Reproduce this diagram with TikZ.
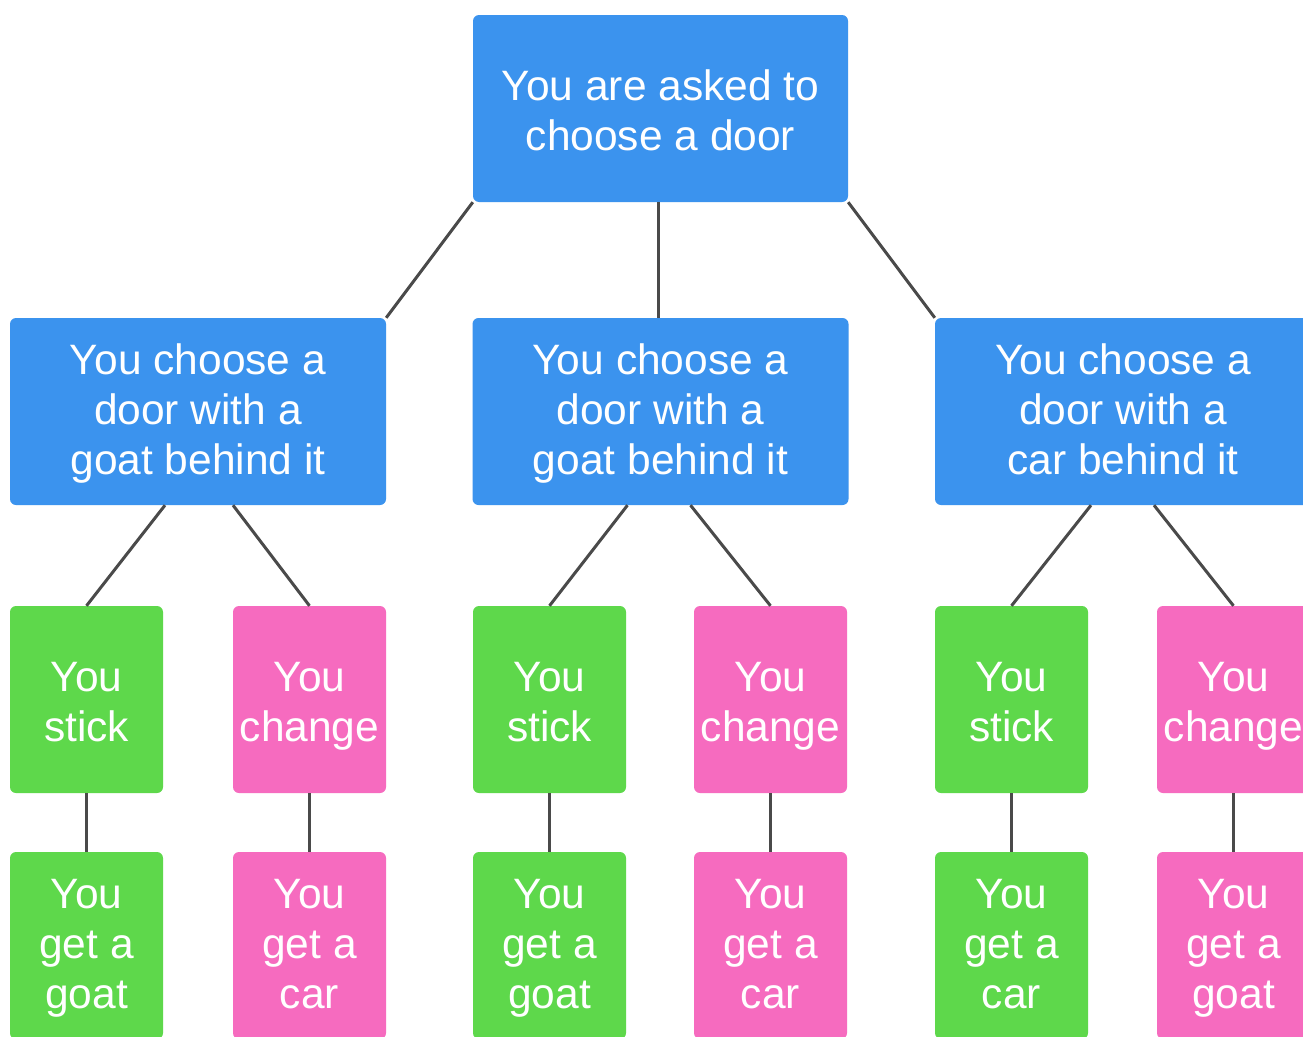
\documentclass[tikz,border=0pt]{standalone}
\usepackage{fontspec}
\setmainfont{Liberation Sans}
\definecolor{boxblue}{HTML}{3B93EE}
\definecolor{boxgreen}{HTML}{5ED84B}
\definecolor{boxpink}{HTML}{F66BBF}
\definecolor{linegray}{HTML}{4A4A4A}
\newcommand\threel[1]{\raisebox{-3pt}[\height][\depth]{\begin{tabular}{@{}c@{}}#1\end{tabular}}}
\newcommand\twol[1]{\raisebox{-7pt}[\height][\depth]{\begin{tabular}{@{}c@{}}#1\end{tabular}}}
\begin{document}
\begin{tikzpicture}[x=1pt,y=-1pt,
  box/.style={rounded corners=6pt, inner sep=0pt, text=white,
    font=\fontsize{42.5}{50}\selectfont, minimum height=187pt},
  bluebox/.style={box, fill=boxblue, minimum width=376pt},
  greenbox/.style={box, fill=boxgreen, minimum width=153pt},
  pinkbox/.style={box, fill=boxpink, minimum width=153pt},
  conn/.style={draw=linegray, line width=3pt}]
\useasboundingbox (0,0) rectangle (1303,1036);
\clip (0,0) rectangle (1303,1036);
\fill[white] (0,0) rectangle (1303,1036);

% level 1
\node[bluebox, minimum width=375pt] (top) at (660.5,108.5) {\twol{You are asked to\\choose a door}};
% level 2
\node[bluebox] (La) at (198,411.5) {\threel{You choose a\\door with a\\goat behind it}};
\node[bluebox] (Lb) at (660.5,411.5) {\threel{You choose a\\door with a\\goat behind it}};
\node[bluebox] (Lc) at (1123,411.5) {\threel{You choose a\\door with a\\car behind it}};
% level 3
\node[greenbox] (Sa) at (86.5,699.5) {\twol{You\\stick}};
\node[pinkbox]  (Ca) at (309.5,699.5) {\twol{You\\change}};
\node[greenbox] (Sb) at (549.5,699.5) {\twol{You\\stick}};
\node[pinkbox]  (Cb) at (770.5,699.5) {\twol{You\\change}};
\node[greenbox] (Sc) at (1011.5,699.5) {\twol{You\\stick}};
\node[pinkbox]  (Cc) at (1233.5,699.5) {\twol{You\\change}};
% level 4
\node[greenbox] (Ra) at (86.5,945.5) {\threel{You\\get a\\goat}};
\node[pinkbox]  (Qa) at (309.5,945.5) {\threel{You\\get a\\car}};
\node[greenbox] (Rb) at (549.5,945.5) {\threel{You\\get a\\goat}};
\node[pinkbox]  (Qb) at (770.5,945.5) {\threel{You\\get a\\car}};
\node[greenbox] (Rc) at (1011.5,945.5) {\threel{You\\get a\\car}};
\node[pinkbox]  (Qc) at (1233.5,945.5) {\threel{You\\get a\\goat}};

% connectors level 1 -> 2
\draw[conn] (top.south west) -- (La.north east);
\draw[conn] ([xshift=-2pt]top.south) -- ([xshift=-2pt]Lb.north);
\draw[conn] (top.south east) -- (Lc.north west);
% level 2 -> 3
\draw[conn] ([xshift=-33pt]La.south) -- (Sa.north);
\draw[conn] ([xshift=35pt]La.south) -- (Ca.north);
\draw[conn] ([xshift=-33pt]Lb.south) -- (Sb.north);
\draw[conn] ([xshift=30pt]Lb.south) -- (Cb.north);
\draw[conn] ([xshift=-32pt]Lc.south) -- (Sc.north);
\draw[conn] ([xshift=31pt]Lc.south) -- (Cc.north);
% level 3 -> 4
\draw[conn] (Sa.south) -- (Ra.north);
\draw[conn] (Ca.south) -- (Qa.north);
\draw[conn] (Sb.south) -- (Rb.north);
\draw[conn] (Cb.south) -- (Qb.north);
\draw[conn] (Sc.south) -- (Rc.north);
\draw[conn] (Cc.south) -- (Qc.north);
\end{tikzpicture}
\end{document}
